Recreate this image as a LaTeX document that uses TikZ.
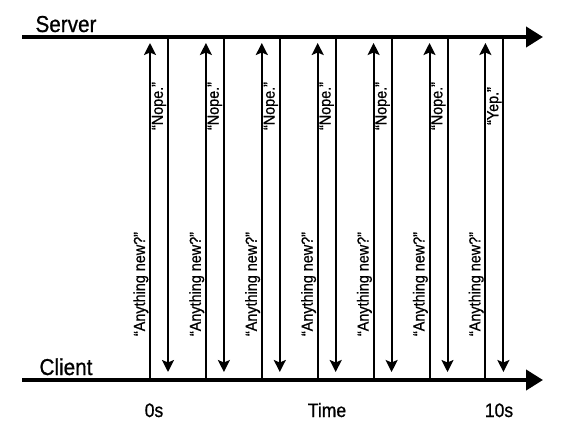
\documentclass[tikz,border=0pt]{standalone}
\usepackage{fontspec}
\setmainfont{Liberation Sans}[FakeStretch=0.9,FakeBold=0.8]
\usetikzlibrary{arrows.meta}
\begin{document}
\begin{tikzpicture}[x=1pt,y=-1pt,
  axisline/.style={line width=4pt,-{Triangle[length=17pt,width=20pt]}},
  msg/.style={line width=2pt,-{Stealth[length=12pt,width=12pt,inset=2.5pt]}},
  big/.style={font=\fontsize{23}{23}\selectfont,inner sep=0pt},
  ticklbl/.style={font=\fontsize{19.5}{19.5}\selectfont,inner sep=0pt,anchor=base},
  msglbl/.style={font=\fontsize{16}{16}\selectfont,inner sep=0pt,rotate=90}]
\useasboundingbox (0,0) rectangle (564,431);
% axes
\coordinate (s0) at (22,37);
\coordinate (s1) at (543,37);
\coordinate (c0) at (22,380);
\coordinate (c1) at (543,380);
\draw[axisline] (s0) -- (s1);
\draw[axisline] (c0) -- (c1);
\node[big,anchor=base] (server) at (66,32) {Server};
\node[big,anchor=base] (client) at (66,375) {Client};
% messages
\foreach \i/\ans in {0/Nope.,1/Nope.,2/Nope.,3/Nope.,4/Nope.,5/Nope.,6/Yep.} {
  \pgfmathsetmacro{\ux}{150+55.9*\i}
  \pgfmathsetmacro{\dx}{\ux+18}
  \coordinate (qa\i) at (\ux,380);
  \coordinate (qb\i) at (\ux,43);
  \coordinate (ra\i) at (\dx,37);
  \coordinate (rb\i) at (\dx,372);
  \draw[msg] (qa\i) -- (qb\i);
  \draw[msg] (ra\i) -- (rb\i);
  \node[msglbl,anchor=south] (q\i) at (\ux-1.5,284) {“Anything new?”};
  \node[msglbl] (r\i) at (\ux+9,106) {“\ans”};
}
% time labels
\node[ticklbl] (t0) at (154,417) {0s};
\node[ticklbl] (tm) at (327,417) {Time};
\node[ticklbl] (t10) at (499,417) {10s};
\end{tikzpicture}
\end{document}
